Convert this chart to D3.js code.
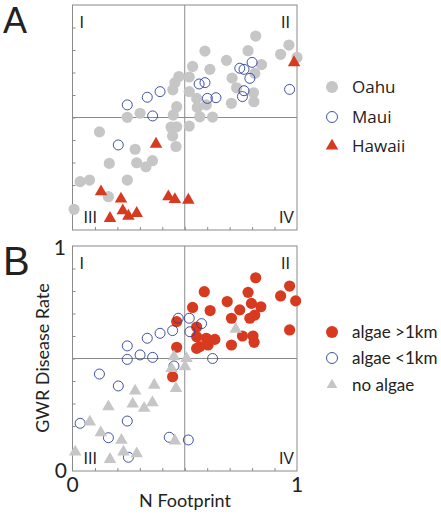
<!DOCTYPE html>
<html>
<head>
<meta charset="utf-8">
<script src="https://cdn.jsdelivr.net/npm/d3@7"></script>
<style>
  html, body { margin: 0; padding: 0; background: #fff; }
  svg { display: block; }
</style>
</head>
<body>
<script>
// ---------------- data ----------------
// Panel A: island groups  [N Footprint, GWR Disease Rate]
const oahu = [
  [0.816,0.862],[0.964,0.822],[1.0,0.767],[0.927,0.781],[0.782,0.797],[0.59,0.795],
  [0.686,0.754],[0.535,0.727],[0.612,0.714],[0.842,0.735],[0.812,0.696],[0.711,0.675],
  [0.731,0.632],[0.806,0.61],[0.808,0.57],[0.708,0.563],[0.474,0.682],[0.456,0.655],
  [0.447,0.623],[0.52,0.68],[0.52,0.615],[0.553,0.585],[0.556,0.545],[0.596,0.556],
  [0.567,0.503],[0.624,0.502],[0.464,0.548],[0.449,0.511],[0.52,0.462],[0.439,0.457],
  [0.464,0.459],[0.446,0.418],[0.461,0.371],[0.301,0.519],[0.244,0.501],[0.12,0.436],
  [0.279,0.359],[0.164,0.296],[0.286,0.299],[0.327,0.281],[0.356,0.308],[0.244,0.222],
  [0.034,0.215],[0.076,0.222],[0.16,0.148],[0.007,0.092]
];
const maui = [
  [0.244,0.556],[0.333,0.59],[0.39,0.615],[0.357,0.507],[0.204,0.378],[0.564,0.649],
  [0.59,0.655],[0.601,0.585],[0.639,0.588],[0.745,0.719],[0.764,0.714],[0.8,0.745],
  [0.79,0.674],[0.764,0.619],[0.757,0.593],[0.967,0.625]
];
const hawaii = [
  [0.987,0.744],[0.372,0.382],[0.127,0.17],[0.216,0.138],[0.224,0.086],[0.249,0.062],
  [0.286,0.074],[0.167,0.052],[0.427,0.148],[0.456,0.136],[0.516,0.133]
];
// Panel B: algae distance groups
const algaeFar = [
  [0.816,0.859],[0.967,0.822],[0.927,0.778],[0.994,0.756],[0.782,0.794],[0.587,0.797],
  [0.689,0.753],[0.535,0.727],[0.613,0.713],[0.745,0.716],[0.797,0.745],[0.839,0.73],
  [0.812,0.693],[0.708,0.679],[0.79,0.679],[0.464,0.664],[0.553,0.64],[0.967,0.627],
  [0.757,0.6],[0.804,0.6],[0.809,0.572],[0.708,0.56],[0.553,0.597],[0.596,0.59],
  [0.634,0.585],[0.567,0.553],[0.553,0.545],[0.604,0.56],[0.464,0.55],[0.446,0.419]
];
const algaeNear = [
  [0.471,0.679],[0.52,0.679],[0.575,0.655],[0.446,0.624],[0.39,0.612],[0.333,0.59],
  [0.523,0.619],[0.244,0.556],[0.244,0.496],[0.301,0.516],[0.357,0.505],[0.624,0.5],
  [0.452,0.467],[0.12,0.431],[0.204,0.378],[0.244,0.222],[0.034,0.212],[0.16,0.148],
  [0.431,0.15],[0.516,0.138],[0.249,0.061]
];
const noAlgae = [
  [0.727,0.63],[0.452,0.508],[0.508,0.5],[0.441,0.456],[0.501,0.464],[0.461,0.367],
  [0.279,0.356],[0.364,0.382],[0.16,0.286],[0.268,0.298],[0.356,0.304],[0.319,0.279],
  [0.077,0.218],[0.126,0.17],[0.218,0.137],[0.456,0.134],[0.012,0.085],[0.227,0.085],
  [0.286,0.077],[0.167,0.052]
];
const tickValues = [0.1,0.2,0.3,0.4,0.5,0.6,0.7,0.8,0.9];
const quadrantLabels = ["I","II","III","IV"];
const legendA = ["Oahu","Maui","Hawaii"];
const legendB = ["algae >1km","algae <1km","no algae"];

// ---------------- drawing ----------------
const W = 441, H = 516;
const GRAY = "#c6c6c6", RED = "#d83a20", BLUE = "#2d3f98", AX = "#8a8a8a";

const svg = d3.select("body").append("svg").attr("width", W).attr("height", H);

const x = d3.scaleLinear().domain([0,1]).range([72.5, 297]);
const yA = d3.scaleLinear().domain([0,1]).range([230, 5]);
const yB = d3.scaleLinear().domain([0,1]).range([471, 246]);

const tri = d3.symbol().type(d3.symbolTriangle).size(68);

function frame(y) {
  const g = svg.append("g");
  const [y0, y1] = [y(1), y(0)];
  // ticks (inward)
  g.append("g").attr("transform", `translate(0,${y1})`)
    .call(d3.axisBottom(x).tickValues(tickValues).tickSize(-3).tickFormat(""))
    .call(s => { s.select(".domain").remove(); s.selectAll("line").attr("stroke", AX); });
  g.append("g").attr("transform", `translate(${x(0)},0)`)
    .call(d3.axisLeft(y).tickValues(tickValues).tickSize(-3).tickFormat(""))
    .call(s => { s.select(".domain").remove(); s.selectAll("line").attr("stroke", AX); });
  // box
  g.append("rect").attr("x", x(0)).attr("y", y0)
    .attr("width", x(1) - x(0)).attr("height", y1 - y0)
    .attr("fill", "none").attr("stroke", AX).attr("stroke-width", 1);
  // midlines
  g.append("line").attr("x1", x(0.5)).attr("x2", x(0.5)).attr("y1", y0).attr("y2", y1)
    .attr("stroke", AX);
  g.append("line").attr("x1", x(0)).attr("x2", x(1)).attr("y1", y(0.5)).attr("y2", y(0.5))
    .attr("stroke", AX);
  // quadrant labels
  const qf = "'Liberation Sans', Arial, sans-serif";
  const qpos = [
    {t: quadrantLabels[0], x: x(0) + 7, y: y0 + 23, a: "start"},
    {t: quadrantLabels[1], x: x(1) - 7, y: y0 + 23, a: "end"},
    {t: quadrantLabels[2], x: x(0) + 11, y: y1 - 7, a: "start"},
    {t: quadrantLabels[3], x: x(1) - 3, y: y1 - 7, a: "end"}
  ];
  g.selectAll("text.q").data(qpos).join("text")
    .attr("x", d => d.x).attr("y", d => d.y).attr("text-anchor", d => d.a)
    .attr("font-family", qf).attr("font-size", 16).attr("fill", "#222")
    .text(d => d.t);
}

frame(yA);
frame(yB);

// Panel A points
const pA = svg.append("g");
pA.selectAll("circle.oahu").data(oahu).join("circle")
  .attr("cx", d => x(d[0])).attr("cy", d => yA(d[1])).attr("r", 5.6).attr("fill", GRAY);
pA.selectAll("circle.maui").data(maui).join("circle")
  .attr("cx", d => x(d[0])).attr("cy", d => yA(d[1])).attr("r", 5)
  .attr("fill", "none").attr("stroke", BLUE).attr("stroke-width", 0.9);
pA.selectAll("path.hawaii").data(hawaii).join("path")
  .attr("d", tri).attr("transform", d => `translate(${x(d[0])},${yA(d[1])})`).attr("fill", RED);

// Panel B points
const pB = svg.append("g");
pB.selectAll("circle.far").data(algaeFar).join("circle")
  .attr("cx", d => x(d[0])).attr("cy", d => yB(d[1])).attr("r", 5.6).attr("fill", RED);
pB.selectAll("circle.near").data(algaeNear).join("circle")
  .attr("cx", d => x(d[0])).attr("cy", d => yB(d[1])).attr("r", 5)
  .attr("fill", "none").attr("stroke", BLUE).attr("stroke-width", 0.9);
pB.selectAll("path.none").data(noAlgae).join("path")
  .attr("d", tri).attr("transform", d => `translate(${x(d[0])},${yB(d[1])})`).attr("fill", GRAY);

// Legends
const lgA = svg.append("g");
const lgAy = [87, 117, 146];
lgA.append("circle").attr("cx", 332).attr("cy", lgAy[0]).attr("r", 6).attr("fill", GRAY);
lgA.append("circle").attr("cx", 332).attr("cy", lgAy[1]).attr("r", 5.5)
  .attr("fill", "none").attr("stroke", BLUE).attr("stroke-width", 0.9);
lgA.append("path").attr("d", tri).attr("transform", `translate(332,${lgAy[2]})`).attr("fill", RED);
lgA.selectAll("text").data(legendA).join("text")
  .attr("x", 352).attr("y", (d, i) => lgAy[i] + 6)
  .attr("font-family", "'Open Sans', sans-serif").attr("font-size", 17).attr("fill", "#222")
  .text(d => d);

const lgB = svg.append("g");
const lgBy = [332, 358, 385];
lgB.append("circle").attr("cx", 332).attr("cy", lgBy[0]).attr("r", 6).attr("fill", RED);
lgB.append("circle").attr("cx", 332).attr("cy", lgBy[1]).attr("r", 5.5)
  .attr("fill", "none").attr("stroke", BLUE).attr("stroke-width", 0.9);
lgB.append("path").attr("d", d3.symbol().type(d3.symbolTriangle).size(50))
  .attr("transform", `translate(332,${lgBy[2]})`).attr("fill", GRAY);
lgB.selectAll("text").data(legendB).join("text")
  .attr("x", 352).attr("y", (d, i) => lgBy[i] + 6)
  .attr("font-family", "Lato, sans-serif").attr("font-size", 17).attr("fill", "#222")
  .text(d => d);

// Panel letters
svg.append("text").attr("x", 3).attr("y", 33).attr("font-family", "'Liberation Sans', Arial, sans-serif")
  .attr("font-size", 36).attr("fill", "#222").text("A");
svg.append("text").attr("x", 3).attr("y", 275).attr("font-family", "'Liberation Sans', Arial, sans-serif")
  .attr("font-size", 40).attr("fill", "#222").text("B");

// Axis numbers for panel B
const nf = "Lato, sans-serif";
svg.append("text").attr("x", 66).attr("y", 255).attr("text-anchor", "end")
  .attr("font-family", nf).attr("font-size", 21).attr("fill", "#222").text("1");
svg.append("text").attr("x", 67).attr("y", 478).attr("text-anchor", "end")
  .attr("font-family", nf).attr("font-size", 21).attr("fill", "#222").text("0");
svg.append("text").attr("x", x(0)).attr("y", 492).attr("text-anchor", "middle")
  .attr("font-family", nf).attr("font-size", 21).attr("fill", "#222").text("0");
svg.append("text").attr("x", x(1)).attr("y", 492).attr("text-anchor", "middle")
  .attr("font-family", nf).attr("font-size", 21).attr("fill", "#222").text("1");

// Axis titles
svg.append("text").attr("x", 185).attr("y", 507).attr("text-anchor", "middle")
  .attr("font-family", nf).attr("font-size", 18).attr("fill", "#222").text("N Footprint");
svg.append("text").attr("transform", "translate(49,358) rotate(-90)").attr("text-anchor", "middle")
  .attr("font-family", nf).attr("font-size", 18).attr("fill", "#222").text("GWR Disease Rate");
</script>
</body>
</html>
